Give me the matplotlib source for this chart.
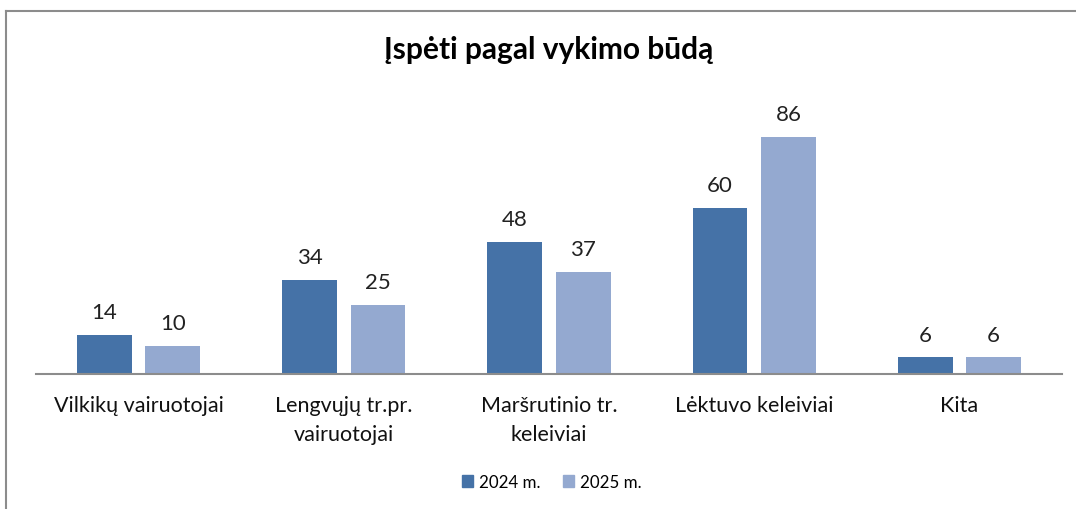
import matplotlib
matplotlib.use("Agg")
import matplotlib.pyplot as plt
from matplotlib.lines import Line2D
from matplotlib.patches import Patch
import numpy as np

plt.rcParams['font.family'] = ['Lato', 'DejaVu Sans']

title = "Įspėti pagal vykimo būdą"
categories = ["Vilkikų vairuotojai", "Lengvųjų tr.pr.\nvairuotojai", "Maršrutinio tr.\nkeleiviai",
              "Lėktuvo keleiviai", "Kita"]
series_names = ["2024 m.", "2025 m."]
values_2024 = [14, 34, 48, 60, 6]
values_2025 = [10, 25, 37, 86, 6]
colors = ["#4572A7", "#94A9D0"]

W, H = 1076, 510
fig = plt.figure(figsize=(W / 100, H / 100), dpi=100)
ax_left, ax_right = 36 / W, 1062 / W
ax_bottom = 1 - 375 / H
ax_top = 1 - 99 / H
ax = fig.add_axes([ax_left, ax_bottom, ax_right - ax_left, ax_top - ax_bottom])

x = np.arange(len(categories))
bw = 0.267
off = 0.167
for vals, c, o, name in [(values_2024, colors[0], -off, series_names[0]),
                         (values_2025, colors[1], off, series_names[1])]:
    bars = ax.bar(x + o, vals, width=bw, color=c, label=name)
    for b, v in zip(bars, vals):
        ax.annotate(str(v), (b.get_x() + b.get_width() / 2, v), xytext=(0, 16.5),
                    textcoords="offset points", ha="center", va="center",
                    fontsize=16, color="#222222")

ax.set_xlim(-0.5, len(categories) - 0.5)
ax.set_ylim(0, 100)
for s in ["top", "right", "left"]:
    ax.spines[s].set_visible(False)
ax.spines["bottom"].set_color("#8c8c8c")
ax.spines["bottom"].set_linewidth(1.5)
ax.set_yticks([])
ax.set_xticks(x)
ax.set_xticklabels(categories, fontsize=15.5, color="#111111", linespacing=1.55)
ax.tick_params(axis="x", length=0, pad=15)

fig.text(549 / W, 1 - 50 / H, title, ha="center", va="center", fontsize=21.5,
         fontweight="bold", color="black")

handles = [Patch(color=colors[0], label=series_names[0]),
           Patch(color=colors[1], label=series_names[1])]
fig.legend(handles=handles, loc="center", bbox_to_anchor=(552 / W, 1 - 483 / H), ncol=2,
           frameon=False, fontsize=12.2, handlelength=0.65, handleheight=0.65,
           handletextpad=0.35, columnspacing=1.3)

fig.add_artist(Line2D([6 / W, 1], [1 - 12 / H, 1 - 12 / H], color="#8c8c8c", lw=1.5,
                      transform=fig.transFigure))
fig.add_artist(Line2D([6 / W, 6 / W], [0, 1 - 12 / H], color="#8c8c8c", lw=1.5,
                      transform=fig.transFigure))

fig.savefig("out.png", dpi=100)
